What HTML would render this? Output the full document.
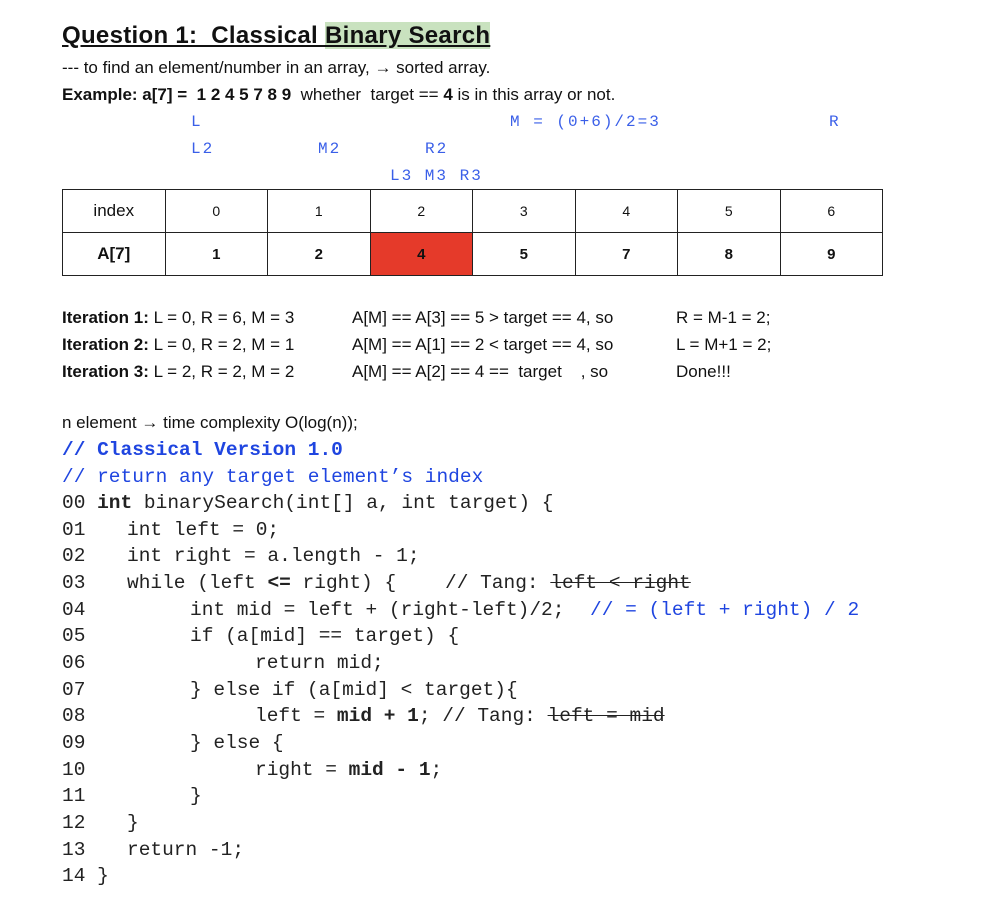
<!DOCTYPE html>
<html><head><meta charset="utf-8"><style>
body{margin:0;background:#fff;width:990px;height:920px;position:relative;overflow:hidden;font-family:"Liberation Sans",sans-serif;color:#111}
.a{position:absolute;white-space:pre;line-height:1}
.s{font-size:17px}
.m{font-family:"Liberation Mono",monospace;font-size:16px;letter-spacing:2px;color:#3a5fe8}
.c{font-family:"Liberation Mono",monospace;font-size:19.5px;color:#222}
.bl{color:#1f45e0}
b{font-weight:bold}
table{position:absolute;left:62px;top:189px;border-collapse:collapse;table-layout:fixed;width:821px}
td{border:1px solid #222;height:42px;text-align:center;font-size:14px;padding:0}
tr:nth-child(2) td{font-weight:bold;font-size:15px}
</style></head><body>
<div class="a" style="left:62px;top:24px;font-size:24px;font-weight:bold;text-decoration:underline;letter-spacing:0.3px">Question 1:  Classical <span style="background:#c9e2bf">Binary Search</span></div>
<div class="a s" style="left:62px;top:59px">--- to find an element/number in an array, → sorted array.</div>
<div class="a s" style="left:62px;top:86px"><b>Example: a[7] =  1 2 4 5 7 8 9</b>  whether  target == <b>4</b> is in this array or not.</div>
<div class="a m" style="left:191px;top:114px">L</div>
<div class="a m" style="left:510px;top:114px">M = (0+6)/2=3</div>
<div class="a m" style="left:829px;top:114px">R</div>
<div class="a m" style="left:191px;top:141px">L2</div>
<div class="a m" style="left:318px;top:141px">M2</div>
<div class="a m" style="left:425px;top:141px">R2</div>
<div class="a m" style="left:390px;top:168px">L3 M3 R3</div>
<table>
<tr><td style="font-size:17px">index</td><td>0</td><td>1</td><td>2</td><td>3</td><td>4</td><td>5</td><td>6</td></tr>
<tr><td style="font-size:17px">A[7]</td><td>1</td><td>2</td><td style="background:#e53a2a">4</td><td>5</td><td>7</td><td>8</td><td>9</td></tr>
</table>
<div class="a s" style="left:62px;top:309px"><b>Iteration 1:</b> L = 0, R = 6, M = 3</div>
<div class="a s" style="left:352px;top:309px">A[M] == A[3] == 5 &gt; target == 4, so</div>
<div class="a s" style="left:676px;top:309px">R = M-1 = 2;</div>
<div class="a s" style="left:62px;top:336px"><b>Iteration 2:</b> L = 0, R = 2, M = 1</div>
<div class="a s" style="left:352px;top:336px">A[M] == A[1] == 2 &lt; target == 4, so</div>
<div class="a s" style="left:676px;top:336px">L = M+1 = 2;</div>
<div class="a s" style="left:62px;top:363px"><b>Iteration 3:</b> L = 2, R = 2, M = 2</div>
<div class="a s" style="left:352px;top:363px">A[M] == A[2] == 4 ==  target    , so</div>
<div class="a s" style="left:676px;top:363px">Done!!!</div>
<div class="a s" style="left:62px;top:414px">n element → time complexity O(log(n));</div>
<div class="a c bl" style="left:62px;top:441px"><b>// Classical Version 1.0</b></div>
<div class="a c bl" style="left:62px;top:468px">// return any target element’s index</div>
<div class="a c" style="left:62px;top:494px">00 <b>int</b> binarySearch(int[] a, int target) {</div>
<div class="a c" style="left:62px;top:521px">01</div><div class="a c" style="left:127px;top:521px">int left = 0;</div>
<div class="a c" style="left:62px;top:547px">02</div><div class="a c" style="left:127px;top:547px">int right = a.length - 1;</div>
<div class="a c" style="left:62px;top:574px">03</div><div class="a c" style="left:127px;top:574px">while (left <b>&lt;=</b> right) {</div><div class="a c" style="left:445px;top:574px">// Tang: <s>left &lt; right</s></div>
<div class="a c" style="left:62px;top:601px">04</div><div class="a c" style="left:190px;top:601px">int mid = left + (right-left)/2;</div><div class="a c bl" style="left:590px;top:601px">// = (left + right) / 2</div>
<div class="a c" style="left:62px;top:627px">05</div><div class="a c" style="left:190px;top:627px">if (a[mid] == target) {</div>
<div class="a c" style="left:62px;top:654px">06</div><div class="a c" style="left:255px;top:654px">return mid;</div>
<div class="a c" style="left:62px;top:681px">07</div><div class="a c" style="left:190px;top:681px">} else if (a[mid] &lt; target){</div>
<div class="a c" style="left:62px;top:707px">08</div><div class="a c" style="left:255px;top:707px">left = <b>mid + 1</b>; // Tang: <s>left = mid</s></div>
<div class="a c" style="left:62px;top:734px">09</div><div class="a c" style="left:190px;top:734px">} else {</div>
<div class="a c" style="left:62px;top:761px">10</div><div class="a c" style="left:255px;top:761px">right = <b>mid - 1</b>;</div>
<div class="a c" style="left:62px;top:787px">11</div><div class="a c" style="left:190px;top:787px">}</div>
<div class="a c" style="left:62px;top:814px">12</div><div class="a c" style="left:127px;top:814px">}</div>
<div class="a c" style="left:62px;top:841px">13</div><div class="a c" style="left:127px;top:841px">return -1;</div>
<div class="a c" style="left:62px;top:867px">14 }</div>
</body></html>
